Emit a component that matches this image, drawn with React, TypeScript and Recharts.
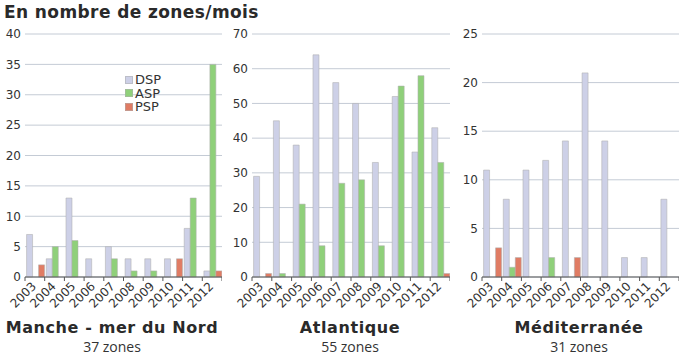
import React from "react";
import { BarChart, Bar, XAxis, YAxis, CartesianGrid, Legend } from "recharts";

const years = ["2003", "2004", "2005", "2006", "2007", "2008", "2009", "2010", "2011", "2012"];

const mancheDsp = [7, 3, 13, 3, 5, 3, 3, 3, 8, 1];
const mancheAsp = [0, 5, 6, 0, 3, 1, 1, 0, 13, 35];
const manchePsp = [2, 0, 0, 0, 0, 0, 0, 3, 0, 1];

const atlantiqueDsp = [29, 45, 38, 64, 56, 50, 33, 52, 36, 43];
const atlantiqueAsp = [0, 1, 21, 9, 27, 28, 9, 55, 58, 33];
const atlantiquePsp = [1, 0, 0, 0, 0, 0, 0, 0, 0, 1];

const medDsp = [11, 8, 11, 12, 14, 21, 14, 2, 2, 8];
const medAsp = [0, 1, 0, 2, 0, 0, 0, 0, 0, 0];
const medPsp = [3, 2, 0, 0, 2, 0, 0, 0, 0, 0];

const mancheTicks = [0, 5, 10, 15, 20, 25, 30, 35, 40];
const atlantiqueTicks = [0, 10, 20, 30, 40, 50, 60, 70];
const medTicks = [0, 5, 10, 15, 20, 25];

const panelNames = ["Manche - mer du Nord", "Atlantique", "Méditerranée"];
const panelZones = ["37 zones", "55 zones", "31 zones"];

const COLORS = { DSP: "#cdd0e7", ASP: "#8fd07a", PSP: "#e07c64" };
const EDGE = "rgba(175,175,175,0.55)";
const FONT = "'DejaVu Sans', Verdana, sans-serif";

const rows = (dsp: number[], asp: number[], psp: number[]) =>
  years.map((y, i) => ({ year: y, DSP: dsp[i], ASP: asp[i], PSP: psp[i] }));

const panels = [
  { data: rows(mancheDsp, mancheAsp, manchePsp), ticks: mancheTicks, legend: true },
  { data: rows(atlantiqueDsp, atlantiqueAsp, atlantiquePsp), ticks: atlantiqueTicks, legend: false },
  { data: rows(medDsp, medAsp, medPsp), ticks: medTicks, legend: false },
];

// layout only
const layout = [
  { left: 0, width: 222, yWidth: 25, titleX: 112 },
  { left: 228, width: 222, yWidth: 24, titleX: 350 },
  { left: 458, width: 221, yWidth: 24, titleX: 579 },
];

function YearTick(props: any) {
  const { x, y, payload, index, bw } = props;
  const last = index === years.length - 1;
  return (
    <g>
      <line x1={x - bw / 2} x2={x - bw / 2} y1={y} y2={y + 4} stroke="#555" />
      {last && <line x1={x + bw / 2} x2={x + bw / 2} y1={y} y2={y + 4} stroke="#555" />}
      <text
        x={x + 2}
        y={y + 10}
        transform={`rotate(-45, ${x + 2}, ${y + 10})`}
        textAnchor="end"
        fontSize={12}
        fontFamily={FONT}
        fill="#333"
      >
        {payload.value}
      </text>
    </g>
  );
}

function LegendBox() {
  return (
    <div style={{ fontFamily: FONT, fontSize: 13, color: "#333", lineHeight: "13.5px" }}>
      {(["DSP", "ASP", "PSP"] as const).map((k) => (
        <div key={k} style={{ display: "flex", alignItems: "center" }}>
          <span
            style={{
              display: "inline-block",
              width: 6,
              height: 6,
              background: COLORS[k],
              border: `1px solid ${EDGE}`,
              marginRight: 2,
            }}
          />
          {k}
        </div>
      ))}
    </div>
  );
}

export default function App() {
  return (
    <div style={{ position: "absolute", left: 0, top: 0, width: 684, height: 357, background: "#fff" }}>
      {panels.map((p, i) => {
        const l = layout[i];
        const bw = (l.width - l.yWidth) / years.length;
        return (
          <div key={i} style={{ position: "absolute", left: l.left, top: 0 }}>
            <BarChart
              width={l.width}
              height={310}
              data={p.data}
              margin={{ top: 34, right: 0, left: 0, bottom: 0 }}
              barCategoryGap="8%"
              barGap={0}
              style={{ overflow: "visible" }}
            >
              <CartesianGrid vertical={false} stroke="#c4cbd5" />
              <YAxis
                width={l.yWidth}
                domain={[0, p.ticks[p.ticks.length - 1]]}
                ticks={p.ticks}
                axisLine={false}
                tickLine={false}
                tickSize={0}
                tickMargin={4}
                interval={0}
                tick={{ fontSize: 12, fontFamily: FONT, fill: "#333" }}
              />
              <XAxis
                dataKey="year"
                height={33}
                interval={0}
                axisLine={{ stroke: "#555" }}
                tickLine={false}
                tickSize={0}
                tickMargin={0}
                tick={<YearTick bw={bw} />}
              />
              {p.legend && (
                <Legend
                  layout="vertical"
                  verticalAlign="middle"
                  align="center"
                  content={<LegendBox />}
                  wrapperStyle={{ left: 125, top: 73, width: 60 }}
                />
              )}
              <Bar dataKey="DSP" fill={COLORS.DSP} stroke={EDGE} isAnimationActive={false} />
              <Bar dataKey="ASP" fill={COLORS.ASP} stroke={EDGE} isAnimationActive={false} />
              <Bar dataKey="PSP" fill={COLORS.PSP} stroke={EDGE} isAnimationActive={false} />
            </BarChart>
          </div>
        );
      })}
      <svg width={684} height={357} style={{ position: "absolute", left: 0, top: 0, pointerEvents: "none" }}>
        <text x={4} y={18} fontFamily={FONT} fontWeight="bold" fontSize={17} letterSpacing={0.4} fill="#2a2a2a">
          En nombre de zones/mois
        </text>
        {panelNames.map((n, i) => (
          <g key={n}>
            <text
              x={layout[i].titleX}
              y={333}
              textAnchor="middle"
              fontFamily={FONT}
              fontWeight="bold"
              fontSize={16}
              letterSpacing={0.6}
              fill="#2a2a2a"
            >
              {n}
            </text>
            <text
              x={layout[i].titleX}
              y={352}
              textAnchor="middle"
              fontFamily="'Open Sans', sans-serif"
              fontSize={14}
              fill="#333"
            >
              {panelZones[i]}
            </text>
          </g>
        ))}
      </svg>
    </div>
  );
}
